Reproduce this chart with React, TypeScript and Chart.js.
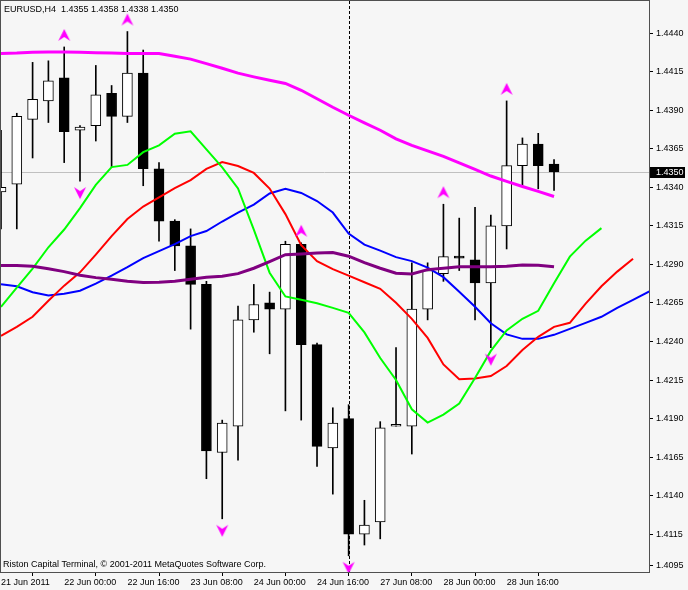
import React, { useEffect, useRef } from 'react';
import { Chart, registerables } from 'chart.js';

Chart.register(...registerables);

// ---------- data ----------
const symbolTitle = 'EURUSD,H4';
const copyrightText = 'Riston Capital Terminal, \u00A9 2001-2011 MetaQuotes Software Corp.';

const dateLabels = ['21 Jun 2011', '22 Jun 00:00', '22 Jun 16:00', '23 Jun 08:00', '24 Jun 00:00', '24 Jun 16:00', '27 Jun 08:00', '28 Jun 00:00', '28 Jun 16:00'];
const dateLabelBars = [0, 4, 8, 12, 16, 20, 24, 28, 32];

const priceTicks = [1.444, 1.4415, 1.439, 1.4365, 1.434, 1.4315, 1.429, 1.4265, 1.424, 1.4215, 1.419, 1.4165, 1.414, 1.4115, 1.4095];
const priceMin = 1.40905;
const priceMax = 1.44608;

const opens = [1.4337, 1.4342, 1.4384, 1.4396, 1.4411, 1.4377, 1.4380, 1.4401, 1.4386, 1.4414, 1.4352, 1.4318, 1.4302, 1.4277, 1.4168, 1.4185, 1.4254, 1.4265, 1.4261, 1.4303, 1.4238, 1.4171, 1.4190, 1.4115, 1.4123, 1.4185, 1.4185, 1.4261, 1.4284, 1.4295, 1.4293, 1.4278, 1.4315, 1.4354, 1.4368, 1.4355];
const highs = [1.4377, 1.4388, 1.4421, 1.4422, 1.4431, 1.4380, 1.4419, 1.4406, 1.4441, 1.4429, 1.4356, 1.4319, 1.4313, 1.4279, 1.4189, 1.4263, 1.4277, 1.4272, 1.4305, 1.4304, 1.4239, 1.4197, 1.4199, 1.4137, 1.4188, 1.4236, 1.4291, 1.4291, 1.4329, 1.4320, 1.4327, 1.4322, 1.4396, 1.4372, 1.4375, 1.4358];
const lows = [1.4313, 1.4313, 1.4359, 1.4382, 1.4356, 1.4344, 1.4370, 1.4353, 1.4382, 1.4341, 1.4305, 1.4286, 1.4248, 1.4151, 1.4125, 1.4163, 1.4246, 1.4232, 1.4195, 1.4189, 1.4159, 1.4141, 1.4101, 1.4108, 1.4112, 1.4185, 1.4167, 1.4254, 1.4279, 1.4286, 1.4254, 1.4236, 1.4300, 1.4341, 1.4339, 1.4338];
const closes = [1.4340, 1.4386, 1.4397, 1.4409, 1.4376, 1.4379, 1.4400, 1.4386, 1.4414, 1.4352, 1.4318, 1.4302, 1.4277, 1.4169, 1.4187, 1.4254, 1.4264, 1.4261, 1.4303, 1.4238, 1.4172, 1.4187, 1.4115, 1.4121, 1.4184, 1.4185, 1.4261, 1.4286, 1.4295, 1.4294, 1.4278, 1.4315, 1.4354, 1.4368, 1.4354, 1.4350];

const maMagenta = [1.44268, 1.44270, 1.44276, 1.44278, 1.44278, 1.44276, 1.44273, 1.44270, 1.44268, 1.44268, 1.44267, 1.44250, 1.44231, 1.44202, 1.44172, 1.44140, 1.44116, 1.44094, 1.44073, 1.44029, 1.43974, 1.43919, 1.43867, 1.43818, 1.43770, 1.43714, 1.43672, 1.43636, 1.43600, 1.43558, 1.43516, 1.43473, 1.43438, 1.43405, 1.43373, 1.43340];
const maPurple = [1.42892, 1.42892, 1.42888, 1.42872, 1.42853, 1.42830, 1.42814, 1.42804, 1.42791, 1.42783, 1.42784, 1.42791, 1.42804, 1.42817, 1.42823, 1.42840, 1.42875, 1.42918, 1.42963, 1.42968, 1.42973, 1.42977, 1.42953, 1.42911, 1.42875, 1.42843, 1.42838, 1.42866, 1.42875, 1.42885, 1.42885, 1.42885, 1.42888, 1.42896, 1.42895, 1.42885];
const lipsGreen = [1.42625, 1.42749, 1.42872, 1.43011, 1.43126, 1.43265, 1.43415, 1.43531, 1.43545, 1.43628, 1.43672, 1.43747, 1.43763, 1.43646, 1.43529, 1.43392, 1.43126, 1.42846, 1.42692, 1.42670, 1.42648, 1.42618, 1.42586, 1.42459, 1.42293, 1.42150, 1.41960, 1.41874, 1.41926, 1.41998, 1.42163, 1.42339, 1.42472, 1.42547, 1.42599, 1.42778, 1.42950, 1.43054, 1.43135];
const teethRed = [1.42436, 1.42495, 1.42560, 1.42664, 1.42762, 1.42848, 1.42963, 1.43083, 1.43194, 1.43275, 1.43334, 1.43395, 1.43447, 1.43519, 1.43564, 1.43538, 1.43493, 1.43392, 1.43226, 1.43025, 1.42921, 1.42869, 1.42827, 1.42784, 1.42742, 1.42651, 1.42547, 1.42423, 1.42251, 1.42155, 1.42160, 1.42176, 1.42241, 1.42345, 1.42430, 1.42495, 1.42521, 1.42645, 1.42758, 1.42853, 1.42937];
const jawBlue = [1.42771, 1.42758, 1.42719, 1.42698, 1.42709, 1.42729, 1.42775, 1.42827, 1.42882, 1.42940, 1.42986, 1.43031, 1.43083, 1.43116, 1.43178, 1.43236, 1.43288, 1.43360, 1.43390, 1.43363, 1.43311, 1.43236, 1.43100, 1.43028, 1.42989, 1.42947, 1.42921, 1.42879, 1.42817, 1.42723, 1.42625, 1.42518, 1.42446, 1.42417, 1.42417, 1.42443, 1.42482, 1.42521, 1.42560, 1.42618, 1.42670, 1.42723, 1.42775, 1.42827];

const upFractalBars = [4, 8, 19, 28, 32];
const downFractalBars = [5, 14, 22, 31];
const separatorBar = 22;

const xMin = -0.063;
const xMax = 41.01;

// ---------- helpers ----------
const FONT = '"Liberation Sans", Arial, sans-serif';

function makeArrow(up: boolean): HTMLCanvasElement {
  const c = document.createElement('canvas');
  c.width = 14;
  c.height = 38;
  const g = c.getContext('2d')!;
  const cx = 7;
  const cy = up ? 7 : 31;
  g.beginPath();
  if (up) {
    g.moveTo(cx, cy - 6);
    g.lineTo(cx + 6, cy + 6);
    g.lineTo(cx, cy + 2);
    g.lineTo(cx - 6, cy + 6);
  } else {
    g.moveTo(cx, cy + 6);
    g.lineTo(cx + 6, cy - 6);
    g.lineTo(cx, cy - 2);
    g.lineTo(cx - 6, cy - 6);
  }
  g.closePath();
  g.fillStyle = '#ff00ff';
  g.fill();
  return c;
}

const toXY = (arr: number[]) => arr.map((v, i) => ({ x: i, y: v }));

export default function App() {
  const ref = useRef<HTMLCanvasElement | null>(null);

  useEffect(() => {
    if (!ref.current) return;
    const last = closes.length - 1;

    const mtPlugin = {
      id: 'mtDecor',
      beforeDatasetsDraw(chart: any) {
        const { ctx, chartArea: a, scales } = chart;
        const x = scales.x;
        const y = scales.y;
        ctx.save();
        const yb = Math.round(y.getPixelForValue(closes[last])) + 0.5;
        ctx.strokeStyle = '#c0c0c0';
        ctx.lineWidth = 1;
        ctx.beginPath();
        ctx.moveTo(a.left, yb);
        ctx.lineTo(a.right, yb);
        ctx.stroke();
        const xs = Math.round(x.getPixelForValue(separatorBar)) + 0.5;
        ctx.setLineDash([3, 2]);
        ctx.strokeStyle = '#000000';
        ctx.beginPath();
        ctx.moveTo(xs, a.top);
        ctx.lineTo(xs, a.bottom);
        ctx.stroke();
        ctx.restore();
      },
      afterDraw(chart: any) {
        const { ctx, chartArea: a, scales } = chart;
        const y = scales.y;
        ctx.save();
        // frame
        ctx.strokeStyle = '#505050';
        ctx.lineWidth = 1;
        ctx.strokeRect(a.left + 0.5, a.top - 0.5, a.right - a.left, a.bottom - a.top + 1);
        // header
        ctx.fillStyle = '#000000';
        ctx.font = '9px ' + FONT;
        ctx.textBaseline = 'alphabetic';
        ctx.textAlign = 'left';
        const hdr = symbolTitle + '  ' + [opens[last], highs[last], lows[last], closes[last]].map((v) => v.toFixed(4)).join(' ');
        ctx.fillText(hdr, a.left + 4, a.top + 11);
        ctx.fillText(copyrightText, a.left + 3, a.bottom - 5);
        // current price box
        const yb = Math.round(y.getPixelForValue(closes[last]));
        ctx.fillStyle = '#000000';
        ctx.fillRect(a.right + 1, yb - 5, 35, 11);
        ctx.fillStyle = '#ffffff';
        ctx.textBaseline = 'middle';
        ctx.fillText(closes[last].toFixed(4), a.right + 7, yb + 0.5);
        ctx.restore();
      },
    };

    const upArrow = makeArrow(true);
    const downArrow = makeArrow(false);

    const chart = new Chart(ref.current, {
      type: 'bar',
      data: {
        datasets: [
          {
            type: 'line',
            data: upFractalBars.map((b) => ({ x: b, y: highs[b] })),
            showLine: false,
            pointStyle: upArrow as any,
            pointRadius: 6,
            order: 0,
          } as any,
          {
            type: 'line',
            data: downFractalBars.map((b) => ({ x: b, y: lows[b] })),
            showLine: false,
            pointStyle: downArrow as any,
            pointRadius: 6,
            order: 0,
          } as any,
          {
            type: 'line',
            data: toXY(maMagenta),
            borderColor: '#ff00ff',
            borderWidth: 3,
            pointRadius: 0,
            tension: 0,
            order: 1,
          } as any,
          {
            type: 'line',
            data: toXY(maPurple),
            borderColor: '#800080',
            borderWidth: 3,
            pointRadius: 0,
            tension: 0,
            order: 1,
          } as any,
          {
            type: 'line',
            data: toXY(lipsGreen),
            borderColor: '#00ff00',
            borderWidth: 2,
            pointRadius: 0,
            tension: 0,
            order: 1,
          } as any,
          {
            type: 'line',
            data: toXY(teethRed),
            borderColor: '#ff0000',
            borderWidth: 2,
            pointRadius: 0,
            tension: 0,
            order: 1,
          } as any,
          {
            type: 'line',
            data: toXY(jawBlue),
            borderColor: '#0000ff',
            borderWidth: 2,
            pointRadius: 0,
            tension: 0,
            order: 1,
          } as any,
          {
            type: 'bar',
            data: opens.map((o, i) => ({ x: i, y: [o, closes[i]] })),
            backgroundColor: opens.map((o, i) => (closes[i] >= o ? '#ffffff' : '#000000')),
            borderColor: '#000000',
            borderWidth: 1,
            borderSkipped: false,
            barThickness: 10,
            minBarLength: 2,
            grouped: false,
            order: 3,
          } as any,
          {
            type: 'bar',
            data: lows.map((l, i) => ({ x: i, y: [l, highs[i]] })),
            backgroundColor: '#000000',
            borderWidth: 0,
            barThickness: 1,
            grouped: false,
            order: 4,
          } as any,
        ],
      },
      options: {
        animation: false,
        responsive: false,
        maintainAspectRatio: false,
        events: [],
        layout: { autoPadding: false, padding: { top: 1, left: 0, right: 0, bottom: 0 } },
        plugins: { legend: { display: false }, tooltip: { enabled: false } },
        scales: {
          x: {
            type: 'linear',
            min: xMin,
            max: xMax,
            offset: false,
            grid: { drawOnChartArea: false, drawTicks: true, tickLength: 4, color: '#000000' },
            border: { display: false },
            afterBuildTicks: (s: any) => {
              s.ticks = dateLabelBars.map((v) => ({ value: v }));
            },
            afterFit: (s: any) => {
              s.height = 18;
              s.paddingLeft = 0;
              s.paddingRight = 0;
            },
            ticks: {
              autoSkip: false,
              maxRotation: 0,
              minRotation: 0,
              align: 'start',
              padding: 1,
              color: '#000000',
              font: { family: FONT, size: 9 },
              callback: (_v: any, idx: number) => dateLabels[idx] ?? '',
            },
          },
          y: {
            type: 'linear',
            position: 'right',
            min: priceMin,
            max: priceMax,
            grid: { drawOnChartArea: false, drawTicks: true, tickLength: 4, color: '#000000' },
            border: { display: false },
            afterBuildTicks: (s: any) => {
              s.ticks = priceTicks.map((v) => ({ value: v }));
            },
            afterFit: (s: any) => {
              s.width = 39;
              s.paddingTop = 0;
              s.paddingBottom = 0;
            },
            ticks: {
              autoSkip: false,
              padding: 3,
              color: '#000000',
              font: { family: FONT, size: 9 },
              callback: (v: any) => Number(v).toFixed(4),
            },
          },
        },
      } as any,
      plugins: [mtPlugin],
    });

    return () => chart.destroy();
  }, []);

  return (
    <div style={{ position: 'fixed', left: 0, top: 0, width: 688, height: 590, background: '#f6f6f6' }}>
      <canvas ref={ref} width={688} height={590} style={{ display: 'block', width: 688, height: 590 }} />
    </div>
  );
}
